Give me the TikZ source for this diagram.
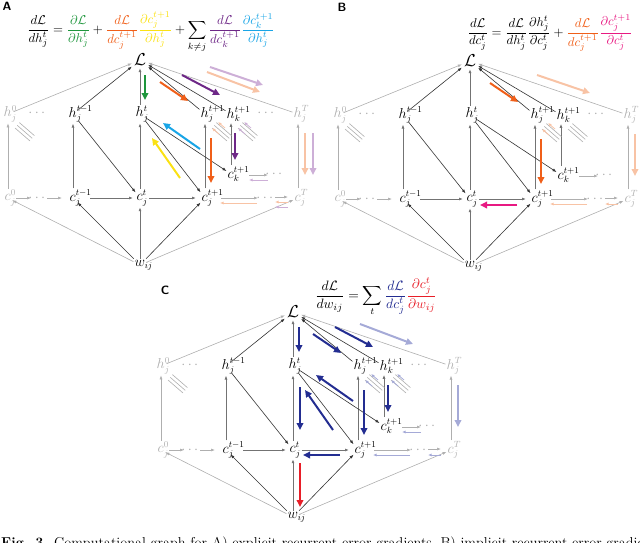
\documentclass[tikz,border=0pt]{standalone}
\usepackage{mathtools}
\usepackage{graphicx}
\usetikzlibrary{arrows.meta,calc}

\definecolor{cgreen}{RGB}{30,150,60}
\definecolor{corange}{RGB}{240,95,25}
\definecolor{cyellow}{RGB}{250,225,20}
\definecolor{cpurple}{RGB}{110,40,135}
\definecolor{ccyan}{RGB}{25,165,230}
\definecolor{porange}{RGB}{248,195,165}
\definecolor{ppurple}{RGB}{205,175,215}
\definecolor{cmag}{RGB}{232,25,130}
\definecolor{cnavy}{RGB}{35,45,145}
\definecolor{pblue}{RGB}{165,170,215}
\definecolor{cred}{RGB}{232,30,40}
\definecolor{fade}{RGB}{175,175,175}

\tikzset{
 lab/.style={inner sep=1pt, font=\fontsize{13.5}{15}\selectfont},
 fadelab/.style={lab, text=fade},
 bigL/.style={inner sep=2pt, font=\fontsize{18}{20}\selectfont},
 edge/.style={draw=black!80, line width=0.6pt, -{Latex[length=4pt,width=3pt]}},
 vedge/.style={draw=black!55, line width=0.9pt, -{Latex[length=4pt,width=3pt]}},
 fedge/.style={draw=fade, line width=0.6pt, -{Latex[length=4pt,width=3pt]}},
 hatchline/.style={draw=fade, line width=0.6pt},
 carrow/.style={draw=#1, line width=2pt, -{Triangle[length=7pt,width=6.5pt]}},
 sarrow/.style={draw=#1, line width=0.8pt, -{Latex[length=3.5pt,width=3pt]}},
 panel/.style={font=\sffamily\bfseries\fontsize{12}{14}\selectfont, inner sep=0pt},
}

\newcommand\hatchg[1]{%
 \foreach \i in {0,1,2}{\draw[hatchline] ([shift={(7+2.2*\i,14-2.7*\i)}]#1.center) -- ++(15,13);}}
\newcommand\hatcha[2]{%
 \draw[sarrow=#2] ([shift={(20,14)}]#1.center) -- ++(-7,-6);
 \draw[sarrow=#2] ([shift={(14,20)}]#1.center) -- ++(-7,-6);}

\newcommand\basegraph{%
 \node[bigL] (L) at (140,60) {$\mathcal{L}$};
 \node[fadelab] (h0) at (8,114) {$h^{\mathrlap{0}}_{\mathrlap{j}}$};
 \node[fadelab] (hd1) at (38,113) {$\cdots$};
 \node[lab] (htm1) at (73,114) {$h^{\mathrlap{t-1}}_{\mathrlap{j}}$};
 \node[lab] (ht) at (140,114) {$h^{\mathrlap{t}}_{\mathrlap{j}}$};
 \node[lab] (htp1) at (205,114) {$h^{\mathrlap{t+1}}_{\mathrlap{j}}$};
 \node[lab] (hkp1) at (231,114) {$h^{\mathrlap{t+1}}_{\mathrlap{k}}$};
 \node[fadelab] (hd2) at (267,113) {$\cdots$};
 \node[fadelab] (hT) at (298,114) {$h^{\mathrlap{T}}_{\mathrlap{j}}$};
 \node[fadelab] (c0) at (8,198) {$c^{\mathrlap{0}}_{\mathrlap{j}}$};
 \node[fadelab] (cd1) at (38,198) {$\cdots$};
 \node[lab] (ctm1) at (73,198) {$c^{\mathrlap{t-1}}_{\mathrlap{j}}$};
 \node[lab] (ct) at (140,198) {$c^{\mathrlap{t}}_{\mathrlap{j}}$};
 \node[lab] (ctp1) at (205,198) {$c^{\mathrlap{t+1}}_{\mathrlap{j}}$};
 \node[lab] (ckp1) at (231,174) {$c^{\mathrlap{t+1}}_{\mathrlap{k}}$};
 \node[fadelab] (ckd) at (275,174) {$\cdots$};
 \node[fadelab] (cd2) at (266,198) {$\cdots$};
 \node[fadelab] (cT) at (298,198) {$c^{\mathrlap{T}}_{\mathrlap{j}}$};
 \node[lab] (w) at (140,265) {$w_{\mathrlap{ij}}$};
 % edges to L
 \draw[fedge] (h0) -- (L);
 \draw[edge] (htm1) -- (L);
 \draw[vedge] (ht) -- (L);
 \draw[edge] (htp1) -- (L);
 \draw[edge] (hkp1) -- (L);
 \draw[fedge] (hT) -- (L);
 % c to h
 \draw[fedge] (c0) -- (h0);
 \draw[vedge] (ctm1) -- (htm1);
 \draw[vedge] (ct) -- (ht);
 \draw[vedge] (ctp1) -- (htp1);
 \draw[vedge] (ckp1) -- (hkp1);
 \draw[fedge] (cT) -- (hT);
 % h to c
 \draw[edge] (htm1) -- (ct);
 \draw[edge] (ht) -- (ctp1);
 \draw[edge] (ht) -- (ckp1);
 % c chain
 \draw[fedge] ([shift={(8,0)}]c0.center) -- ([shift={(-7,0)}]cd1.center);
 \draw[fedge] ([shift={(9,0)}]cd1.center) -- ([shift={(-11,0)}]ctm1.center);
 \draw[vedge] ([shift={(17,0)}]ctm1.center) -- ([shift={(-7,0)}]ct.center);
 \draw[vedge] ([shift={(9,0)}]ct.center) -- ([shift={(-9,0)}]ctp1.center);
 \draw[fedge] ([shift={(16,0)}]ctp1.center) -- ([shift={(-8,0)}]cd2.center);
 \draw[fedge] ([shift={(9,-1)}]cd2.center) -- ([shift={(-10,-1)}]cT.center);
 \draw[fedge] ([shift={(18,1)}]ckp1.center) -- ([shift={(-7,1)}]ckd.center);
 % w
 \draw[fedge] (w) -- (c0);
 \draw[edge] (w) -- (ctm1);
 \draw[vedge] (w) -- (ct);
 \draw[edge] (w) -- (ctp1);
 \draw[fedge] (w) -- (cT);
 \hatchg{h0}\hatchg{htp1}\hatchg{hkp1}
}

\begin{document}
\begin{tikzpicture}[x=1pt,y=-1pt]
\useasboundingbox (0,0) rectangle (640,542);

% ---------------- Panel A
\begin{scope}[name prefix=A-]
 \basegraph
 \hatcha{htp1}{porange}\hatcha{hkp1}{ppurple}
 \draw[carrow=cgreen] ([shift={(5,15)}]L.center) -- ([shift={(5,-14)}]ht.center);
 \draw[carrow=corange] ([shift={(20,22)}]L.center) -- ([shift={(-17,-13)}]htp1.center);
 \draw[carrow=cpurple] ([shift={(42,15)}]L.center) -- ([shift={(-11,-19)}]hkp1.center);
 \draw[carrow=ppurple] ([shift={(70,7)}]L.center) -- ([shift={(-35,-29)}]hT.center);
 \draw[carrow=porange] ([shift={(67,12)}]L.center) -- ([shift={(-38,-22)}]hT.center);
 \draw[carrow=ccyan] ([shift={(-31,-25)}]ckp1.center) -- ([shift={(23,9)}]ht.center);
 \draw[carrow=cyellow] ([shift={(-25,-20)}]ctp1.center) -- ([shift={(12,24)}]ht.center);
 \draw[carrow=corange] ([shift={(6,24)}]htp1.center) -- ([shift={(6,-15)}]ctp1.center);
 \draw[carrow=cpurple] ([shift={(4,19)}]hkp1.center) -- ([shift={(4,-14)}]ckp1.center);
 \draw[carrow=porange] ([shift={(7,19)}]hT.center) -- ([shift={(7,-23)}]cT.center);
 \draw[carrow=ppurple] ([shift={(15,19)}]hT.center) -- ([shift={(15,-23)}]cT.center);
 \draw[sarrow=porange] ([shift={(-9,5)}]cd2.center) -- ([shift={(15,5)}]ctp1.center);
 \draw[sarrow=porange] ([shift={(-10,4)}]cT.center) -- ([shift={(9,4)}]cd2.center);
 \draw[sarrow=ppurple] ([shift={(-10,9)}]cT.center) -- ([shift={(9,9)}]cd2.center);
 \draw[sarrow=ppurple] ([shift={(-7,6)}]ckd.center) -- ([shift={(18,6)}]ckp1.center);
\end{scope}

% ---------------- Panel B
\begin{scope}[shift={(330,1)},name prefix=B-]
 \basegraph
 \hatcha{htp1}{porange}
 \draw[carrow=corange] ([shift={(20,22)}]L.center) -- ([shift={(-17,-13)}]htp1.center);
 \draw[carrow=porange] ([shift={(67,14)}]L.center) -- ([shift={(-38,-22)}]hT.center);
 \draw[carrow=corange] ([shift={(6,24)}]htp1.center) -- ([shift={(6,-15)}]ctp1.center);
 \draw[carrow=cmag] ([shift={(-18,6)}]ctp1.center) -- ([shift={(10,6)}]ct.center);
 \draw[carrow=porange] ([shift={(7,19)}]hT.center) -- ([shift={(7,-23)}]cT.center);
 \draw[sarrow=porange] ([shift={(-9,5)}]cd2.center) -- ([shift={(15,5)}]ctp1.center);
 \draw[sarrow=porange] ([shift={(-10,5)}]cT.center) -- ([shift={(9,5)}]cd2.center);
\end{scope}

% ---------------- Panel C
\begin{scope}[shift={(153,252)},name prefix=C-]
 \basegraph
 \hatcha{htp1}{pblue}\hatcha{hkp1}{pblue}
 \draw[carrow=cnavy] ([shift={(6,15)}]L.center) -- ([shift={(6,-14)}]ht.center);
 \draw[carrow=cnavy] ([shift={(20,22)}]L.center) -- ([shift={(-17,-13)}]htp1.center);
 \draw[carrow=cnavy] ([shift={(42,15)}]L.center) -- ([shift={(-11,-19)}]hkp1.center);
 \draw[carrow=pblue] ([shift={(67,12)}]L.center) -- ([shift={(-38,-22)}]hT.center);
 \draw[carrow=cnavy] ([shift={(-31,-25)}]ckp1.center) -- ([shift={(23,9)}]ht.center);
 \draw[carrow=cnavy] ([shift={(-25,-20)}]ctp1.center) -- ([shift={(12,24)}]ht.center);
 \draw[carrow=cnavy] ([shift={(7,21)}]ht.center) -- ([shift={(7,-20)}]ct.center);
 \draw[carrow=cnavy] ([shift={(6,24)}]htp1.center) -- ([shift={(6,-15)}]ctp1.center);
 \draw[carrow=cnavy] ([shift={(4,19)}]hkp1.center) -- ([shift={(4,-14)}]ckp1.center);
 \draw[carrow=cnavy] ([shift={(-18,5)}]ctp1.center) -- ([shift={(10,5)}]ct.center);
 \draw[carrow=cred] ([shift={(7,13)}]ct.center) -- ([shift={(7,-10)}]w.center);
 \draw[carrow=pblue] ([shift={(7,19)}]hT.center) -- ([shift={(7,-23)}]cT.center);
 \draw[sarrow=pblue] ([shift={(-9,5)}]cd2.center) -- ([shift={(15,5)}]ctp1.center);
 \draw[sarrow=pblue] ([shift={(-10,5)}]cT.center) -- ([shift={(9,5)}]cd2.center);
 \draw[sarrow=pblue] ([shift={(-7,6)}]ckd.center) -- ([shift={(18,6)}]ckp1.center);
\end{scope}

% ---------------- equations and panel letters
\node[panel] (pA) at (7,6) {A};
\node[panel] (pB) at (342,7) {B};
\node[panel] (pC) at (165,290) {C};

\node[inner sep=0pt] (eqA) at (151,32) {\resizebox{248pt}{!}{$\displaystyle
 \frac{d\mathcal{L}}{dh_j^t}=
 \textcolor{cgreen}{\frac{\partial\mathcal{L}}{\partial h_j^t}}+
 \textcolor{corange}{\frac{d\mathcal{L}}{dc_j^{t+1}}}
 \textcolor{cyellow}{\frac{\partial c_j^{t+1}}{\partial h_j^t}}+
 \sum_{k\neq j}\textcolor{cpurple}{\frac{d\mathcal{L}}{dc_k^{t+1}}}
 \textcolor{ccyan}{\frac{\partial c_k^{t+1}}{\partial h_j^t}}$}};

\node[inner sep=0pt] (eqB) at (550,33) {\resizebox{165pt}{!}{$\displaystyle
 \frac{d\mathcal{L}}{dc_j^t}=
 \frac{d\mathcal{L}}{dh_j^t}\frac{\partial h_j^t}{\partial c_j^t}+
 \textcolor{corange}{\frac{d\mathcal{L}}{dc_j^{t+1}}}
 \textcolor{cmag}{\frac{\partial c_j^{t+1}}{\partial c_j^t}}$}};

\node[inner sep=0pt] (eqC) at (376,297) {\resizebox{122pt}{!}{$\displaystyle
 \frac{d\mathcal{L}}{dw_{ij}}=\sum_t
 \textcolor{cnavy}{\frac{d\mathcal{L}}{dc_j^t}}
 \textcolor{cred}{\frac{\partial c_j^t}{\partial w_{ij}}}$}};

% ---------------- caption (cut by the page edge)
\begin{scope}
 \clip (0,0) rectangle (640,542);
 \node[anchor=base west, inner sep=0pt, font=\fontsize{14.3}{17}\selectfont] (cap) at (1,547)
  {\textbf{Fig. 3.} Computational graph for A) explicit recurrent error gradients, B) implicit recurrent error gradients};
\end{scope}
\end{tikzpicture}
\end{document}
